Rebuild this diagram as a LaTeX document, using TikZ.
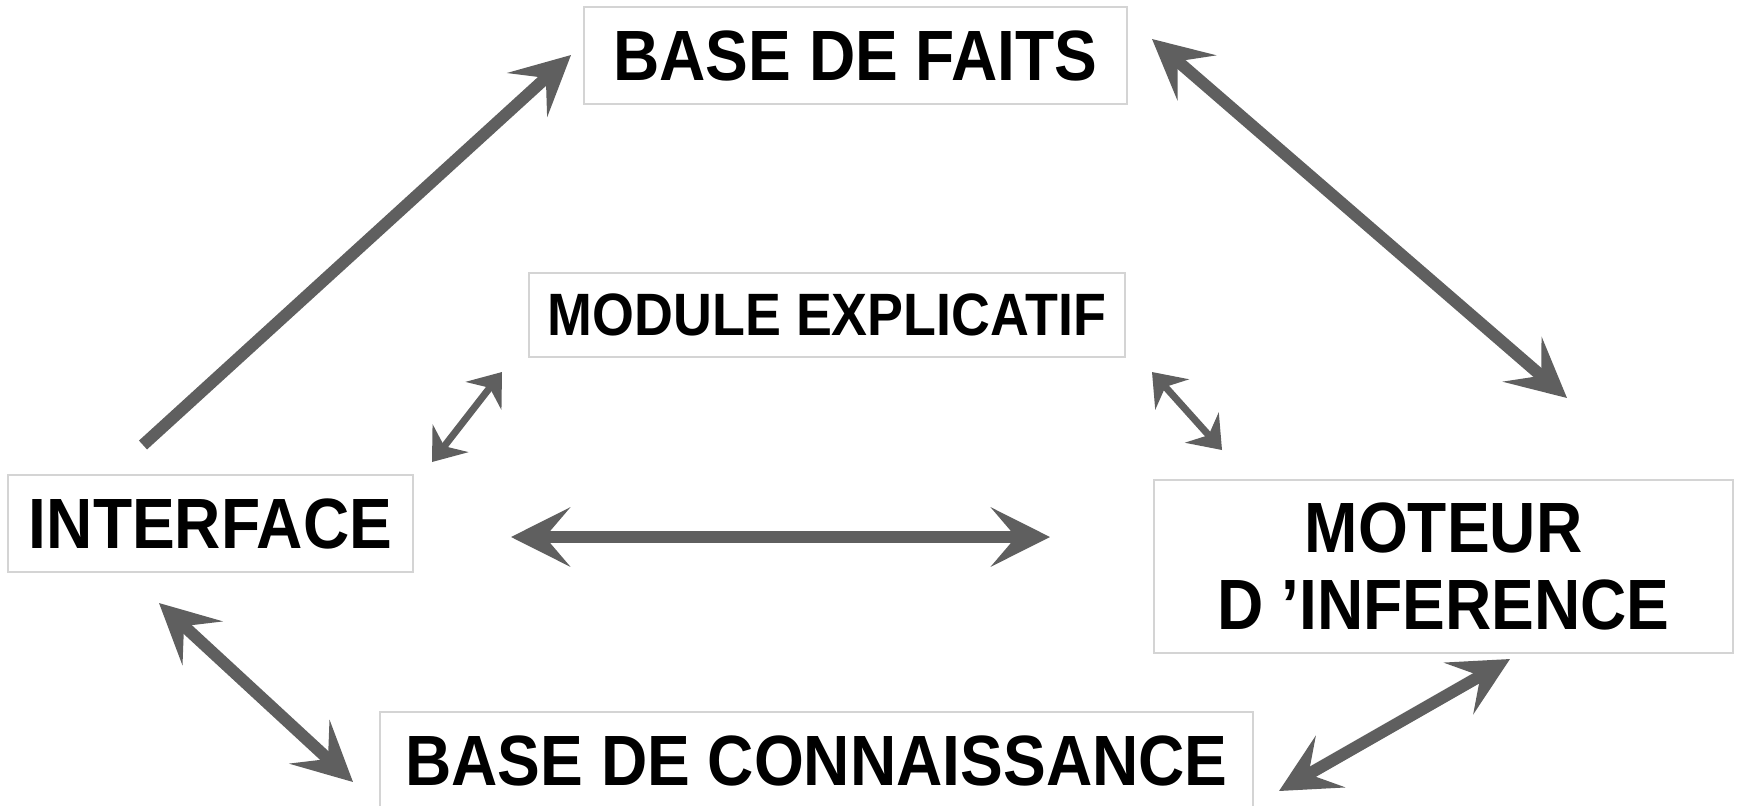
\documentclass[tikz,border=0pt]{standalone}
\usepackage{fontspec}
\setmainfont[FakeStretch=0.9]{Liberation Sans}
\usetikzlibrary{arrows.meta}

\definecolor{boxgray}{RGB}{212,212,212}
\definecolor{arrowgray}{RGB}{95,95,95}

\begin{document}
\begin{tikzpicture}[x=0.5pt,y=-0.5pt,
    bloc/.style={draw=boxgray, line width=1.2pt, inner sep=0pt,
      font=\fontsize{35.6pt}{38.5pt}\selectfont\bfseries, align=center},
    bigarrow/.style={draw=arrowgray, line width=6pt,
      >={Stealth[length=29.5pt,width=29.5pt,inset=12.5pt]}},
    smallarrow/.style={draw=arrowgray, line width=3.5pt,
      >={Stealth[length=15pt,width=22.5pt,inset=5pt]}}]
    \useasboundingbox (0,0) rectangle (1739,805);

    \node (BF) [bloc, minimum width=271.5pt, minimum height=48.5pt] at (855.5,55.5) {BASE DE FAITS};
    \node (ME) [bloc, minimum width=298pt, minimum height=42pt,
      font=\fontsize{29.9pt}{32pt}\selectfont\bfseries] at (827,315) {MODULE EXPLICATIF};
    \node (IF) [bloc, minimum width=202.5pt, minimum height=48.5pt] at (210.5,523.5) {INTERFACE};
    \node (MO) [bloc, minimum width=289.5pt, minimum height=86.5pt] at (1443.5,566.5) {MOTEUR\\D ’INFERENCE};
    \node (BC) [bloc, minimum width=436.5pt, minimum height=48.5pt] at (816.5,760.5) {BASE DE CONNAISSANCE};

    % free ends of the arrows
    \coordinate (IF-BF) at (143,445);
    \coordinate (BF-IF) at (571,55);
    \coordinate (BF-MO) at (1152,39);
    \coordinate (MO-BF) at (1567,398);
    \coordinate (IF-ME) at (432,462);
    \coordinate (ME-IF) at (502,372);
    \coordinate (ME-MO) at (1152,372);
    \coordinate (MO-ME) at (1222,450);
    \coordinate (IF-MO) at (511,537);
    \coordinate (MO-IF) at (1050,537);
    \coordinate (IF-BC) at (159,603);
    \coordinate (BC-IF) at (353,782);
    \coordinate (MO-BC) at (1510,659);
    \coordinate (BC-MO) at (1279,791);

    \draw[bigarrow, ->] (IF-BF) -- (BF-IF);
    \draw[bigarrow, <->] (BF-MO) -- (MO-BF);
    \draw[bigarrow, <->] (IF-MO) -- (MO-IF);
    \draw[bigarrow, <->] (IF-BC) -- (BC-IF);
    \draw[bigarrow, <->] (MO-BC) -- (BC-MO);

    \draw[smallarrow, <->] (IF-ME) -- (ME-IF);
    \draw[smallarrow, <->] (ME-MO) -- (MO-ME);
  \end{tikzpicture}
\end{document}
